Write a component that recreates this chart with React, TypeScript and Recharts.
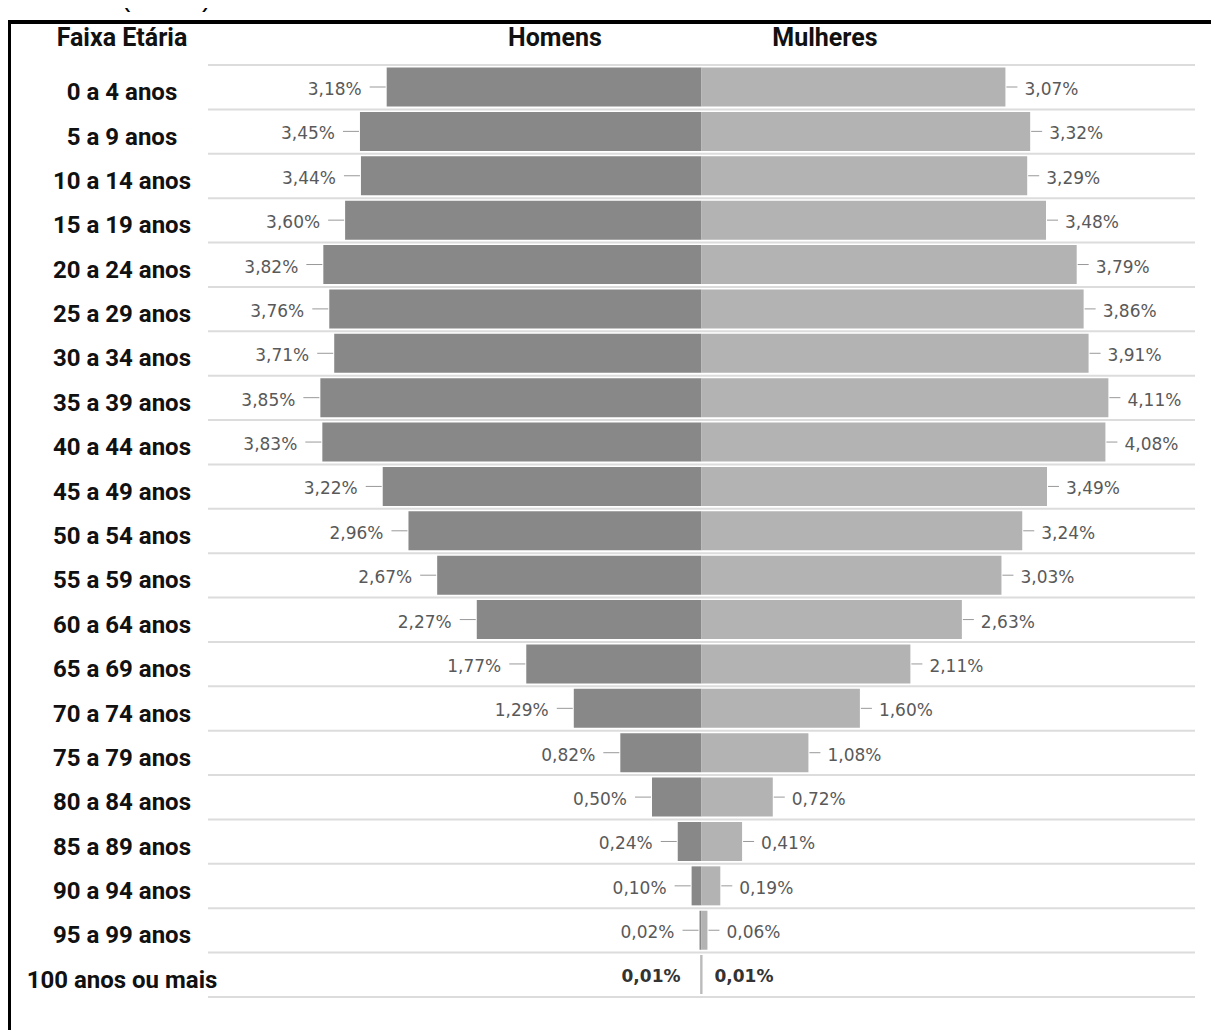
import React from "react";
import { BarChart, Bar, XAxis, YAxis, CartesianGrid, LabelList } from "recharts";

const faixas = [
  "0 a 4 anos",
  "5 a 9 anos",
  "10 a 14 anos",
  "15 a 19 anos",
  "20 a 24 anos",
  "25 a 29 anos",
  "30 a 34 anos",
  "35 a 39 anos",
  "40 a 44 anos",
  "45 a 49 anos",
  "50 a 54 anos",
  "55 a 59 anos",
  "60 a 64 anos",
  "65 a 69 anos",
  "70 a 74 anos",
  "75 a 79 anos",
  "80 a 84 anos",
  "85 a 89 anos",
  "90 a 94 anos",
  "95 a 99 anos",
  "100 anos ou mais",
];

const homens = [
  3.18, 3.45, 3.44, 3.6, 3.82, 3.76, 3.71, 3.85, 3.83, 3.22, 2.96, 2.67, 2.27,
  1.77, 1.29, 0.82, 0.5, 0.24, 0.1, 0.02, 0.01,
];

const mulheres = [
  3.07, 3.32, 3.29, 3.48, 3.79, 3.86, 3.91, 4.11, 4.08, 3.49, 3.24, 3.03, 2.63,
  2.11, 1.6, 1.08, 0.72, 0.41, 0.19, 0.06, 0.01,
];

// men go left of the axis, so they are stored as negative values
const data = faixas.map((faixa, i) => ({
  faixa,
  homens: -homens[i],
  mulheres: mulheres[i],
}));

const LAST = faixas.length - 1;
const fmt = (v: number) => Math.abs(v).toFixed(2).replace(".", ",") + "%";

const labelFont = "'DejaVu Sans', sans-serif";
const titleFont = "Roboto, sans-serif";

const HomensLabel = (props: any) => {
  const { x, y, width, height, value, index } = props;
  const left = Math.min(x, x + width);
  const cy = y + height / 2;
  if (index === LAST) {
    return (
      <text x={left - 20} y={cy + 7} textAnchor="end" fontFamily={labelFont} fontSize={17} fontWeight="bold" fill="#333">
        {fmt(value)}
      </text>
    );
  }
  return (
    <g>
      <line x1={left - 17} x2={left - 1} y1={cy} y2={cy} stroke="#999" strokeWidth={1} />
      <text x={left - 25} y={cy + 8} textAnchor="end" fontFamily={labelFont} fontSize={17} fill="#595959">
        {fmt(value)}
      </text>
    </g>
  );
};

const MulheresLabel = (props: any) => {
  const { x, y, width, height, value, index } = props;
  const right = Math.max(x, x + width);
  const cy = y + height / 2;
  if (index === LAST) {
    return (
      <text x={right + 12} y={cy + 7} fontFamily={labelFont} fontSize={17} fontWeight="bold" fill="#333">
        {fmt(value)}
      </text>
    );
  }
  return (
    <g>
      <line x1={right + 1} x2={right + 12} y1={cy} y2={cy} stroke="#999" strokeWidth={1} />
      <text x={right + 19} y={cy + 8} fontFamily={labelFont} fontSize={17} fill="#595959">
        {fmt(value)}
      </text>
    </g>
  );
};

const FaixaTick = (props: any) => {
  const { y, payload } = props;
  return (
    <text x={114} y={y + 13} textAnchor="middle" fontFamily={titleFont} fontSize={24} fontWeight="bold" fill="#111">
      {payload.value}
    </text>
  );
};

// grid lines sit between the age bands, not on their centres
const bandLines = ({ offset }: any) =>
  Array.from({ length: faixas.length + 1 }, (_, i) => offset.top + (i * offset.height) / faixas.length);

const header: React.CSSProperties = {
  position: "absolute",
  fontFamily: titleFont,
  fontWeight: "bold",
  fontSize: 25,
  color: "#111",
  lineHeight: "30px",
  top: 15,
  transform: "translateX(-50%)",
  whiteSpace: "nowrap",
};

export default function App() {
  return (
    <div style={{ position: "relative", width: 1211, height: 1022 }}>
      <div
        style={{
          position: "absolute",
          left: 113,
          top: -25,
          fontFamily: "'Liberation Sans', Arial, sans-serif",
          fontSize: 28,
          lineHeight: "28px",
          color: "#000",
        }}
      >
        (em %)
      </div>
      <div
        style={{
          position: "absolute",
          left: 0,
          top: 12,
          width: 1211,
          height: 1010,
          borderTop: "4px solid #000",
          borderLeft: "3px solid #000",
          boxSizing: "border-box",
        }}
      />
      <div style={{ ...header, left: 114 }}>Faixa Etária</div>
      <div style={{ ...header, left: 547 }}>Homens</div>
      <div style={{ ...header, left: 817 }}>Mulheres</div>
      <div style={{ position: "absolute", left: 0, top: 0 }}>
        <BarChart
          width={1211}
          height={1010}
          data={data}
          layout="vertical"
          stackOffset="sign"
          barCategoryGap={2.5}
          margin={{ top: 57, right: 24, bottom: 21, left: 0 }}
        >
          <CartesianGrid
            vertical={false}
            stroke="#dcdcdc"
            strokeWidth={2}
            horizontalCoordinatesGenerator={bandLines}
          />
          <XAxis type="number" hide domain={[-4.985, 4.985]} allowDataOverflow />
          <YAxis
            type="category"
            dataKey="faixa"
            width={200}
            axisLine={false}
            tickLine={false}
            interval={0}
            tick={<FaixaTick />}
          />
          <Bar dataKey="homens" stackId="p" fill="#888888" isAnimationActive={false}>
            <LabelList dataKey="homens" content={<HomensLabel />} />
          </Bar>
          <Bar dataKey="mulheres" stackId="p" fill="#b3b3b3" isAnimationActive={false}>
            <LabelList dataKey="mulheres" content={<MulheresLabel />} />
          </Bar>
        </BarChart>
      </div>
    </div>
  );
}
